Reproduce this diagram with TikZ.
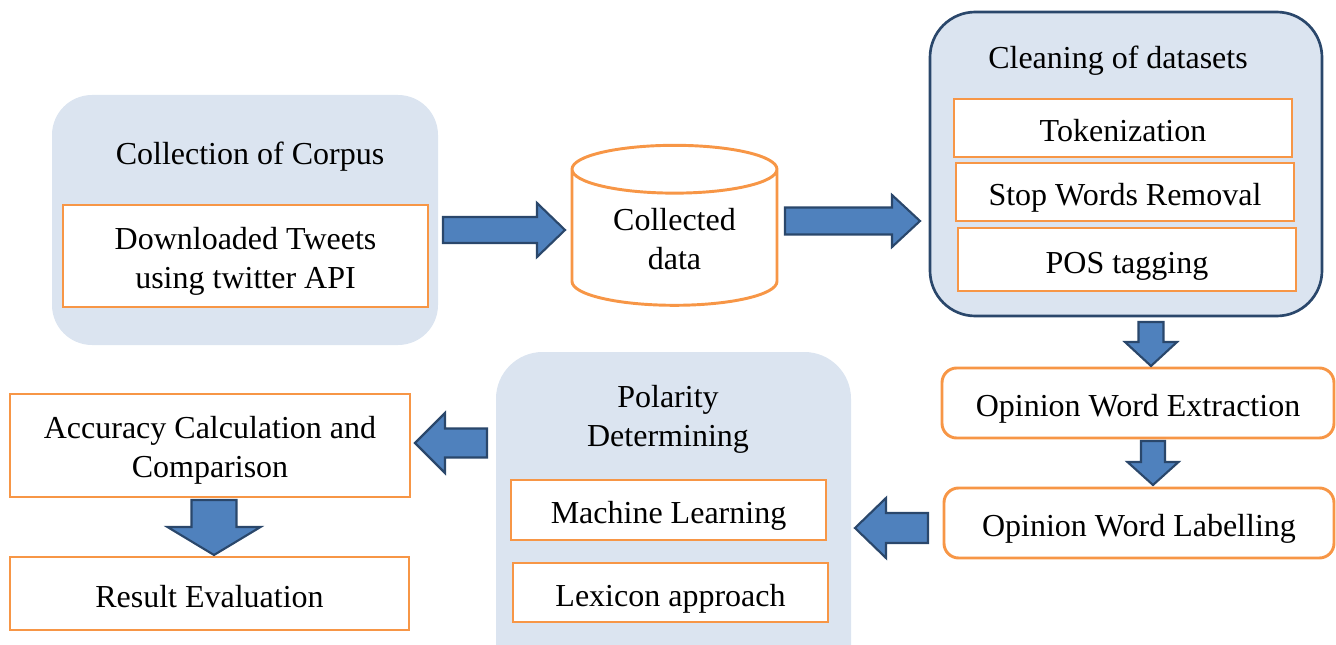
\documentclass[tikz,border=0pt]{standalone}
\usepackage{fontspec}
\setmainfont{Liberation Serif}
\usetikzlibrary{shapes.geometric}

\definecolor{panelblue}{HTML}{DBE4F0}
\definecolor{boxorange}{HTML}{F79646}
\definecolor{arrowblue}{HTML}{4F81BD}
\definecolor{arrowedge}{HTML}{2A476B}

\tikzset{
    sz/.style 2 args={minimum width=#1*0.375pt, minimum height=#2*0.375pt, inner sep=0pt},
    oneline/.style={text height=11.6pt, text depth=0.12em},
    twoline/.style={text height=25.3pt, text depth=0.12em},
    panel/.style={rectangle, rounded corners=15pt, fill=panelblue, draw=none},
    stepbox/.style={rectangle, draw=boxorange, line width=1.1pt, fill=white, align=center, oneline},
    roundbox/.style={stepbox, rounded corners=5.5pt},
    title/.style={align=center, inner sep=0pt, oneline},
    block/.style={fill=arrowblue, draw=arrowedge, line width=0.8pt, line join=miter}
}

% block arrow: start, angle, length, head length, shaft half width, head half width
\newcommand{\blockarrow}[6]{%
  \draw[block, shift={(#1)}, rotate=#2]
    (0,-#5) -- (#3-#4,-#5) -- (#3-#4,-#6) -- (#3,0) -- (#3-#4,#6) -- (#3-#4,#5) -- (0,#5) -- cycle;}

\begin{document}
\begin{tikzpicture}[x=0.375pt, y=-0.375pt, font=\fontsize{12}{14.5}\selectfont]
    \useasboundingbox (0,0) rectangle (1336,645);

    % Collection
    \node[panel, sz={386}{250}] (corpus) at (245,220) {};
    \node[title] (corpus_title) at (250,151) {Collection of Corpus};
    \node[stepbox, twoline, sz={365}{102}] (tweets) at (245.5,256) {Downloaded Tweets\\using twitter API};

    % Collected data
    \node[cylinder, shape border rotate=90, aspect=0.39, draw=boxorange, line width=1.1pt,
          fill=white, sz={205}{160}, align=center, twoline, text height=24.5pt] (data) at (674.5,238) {Collected\\data};

    % Cleaning
    \node[panel, rounded corners=17pt, draw=arrowedge, line width=1pt, sz={392}{304}] (clean) at (1126,164) {};
    \node[title] (clean_title) at (1118,55) {Cleaning of datasets};
    \node[stepbox, sz={338}{58}] (token) at (1123,128) {Tokenization};
    \node[stepbox, sz={338}{58}] (stop) at (1125,192) {Stop Words Removal};
    \node[stepbox, sz={338}{63}] (pos) at (1127,259.5) {POS tagging};

    % Opinion words
    \node[roundbox, sz={392}{70}] (extract) at (1138,403) {Opinion Word Extraction};
    \node[roundbox, sz={390}{70}] (label) at (1139,523) {Opinion Word Labelling};

    % Polarity
    \begin{scope}
        \clip (0,0) rectangle (1336,645);
        \node[panel, rounded corners=17.5pt, sz={355}{348}] (polarity) at (673.5,526) {};
    \end{scope}
    \node[title, twoline] (polarity_title) at (668,414) {Polarity\\Determining};
    \node[stepbox, sz={315}{60}] (ml) at (668.5,510) {Machine Learning};
    \node[stepbox, sz={315}{59}] (lexicon) at (670.5,592.5) {Lexicon approach};

    % Results
    \node[stepbox, twoline, sz={400}{103}] (accuracy) at (210,445.5) {Accuracy Calculation and\\Comparison};
    \node[stepbox, sz={399}{73}] (result) at (209.5,593.5) {Result Evaluation};

    % Arrows
    \coordinate (a_tweets) at (443,230);
    \coordinate (a_data) at (785,221);
    \coordinate (a_clean) at (1151,322);
    \coordinate (a_extract) at (1153,441);
    \coordinate (a_label) at (928,528);
    \coordinate (a_polarity) at (487,443);
    \coordinate (a_accuracy) at (214,500);

    \blockarrow{a_tweets}{0}{122}{28}{13}{27}
    \blockarrow{a_data}{0}{135}{28}{13.5}{26}
    \blockarrow{a_clean}{-90}{44}{24}{12.5}{26}
    \blockarrow{a_extract}{-90}{44}{23}{12}{25.5}
    \blockarrow{a_label}{180}{73}{31}{15}{30}
    \blockarrow{a_polarity}{180}{72}{30}{14.5}{30}
    \blockarrow{a_accuracy}{-90}{55}{28}{22.5}{46.5}

\end{tikzpicture}
\end{document}
